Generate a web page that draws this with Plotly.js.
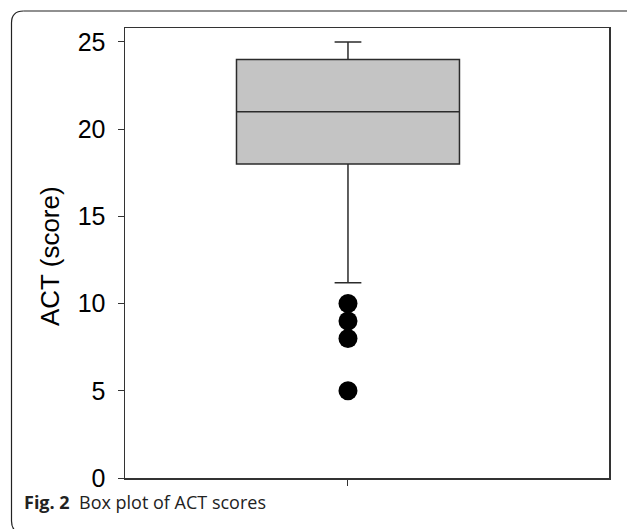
<!DOCTYPE html>
<html>
<head>
<meta charset="utf-8">
<script src="https://cdn.plot.ly/plotly-3.0.1.min.js"></script>
<style>html,body{margin:0;padding:0;background:#fff;}#chart{width:627px;height:529px;}</style>
</head>
<body>
<div id="chart"></div>
<script>
// Box statistics (ACT score)
const category = [0];
const q1 = [18];
const median = [21];
const q3 = [24];
const lowerWhisker = [11.2];
const upperWhisker = [25];
const outlierValues = [10, 9, 8, 5];
const outlierCategory = [0, 0, 0, 0];
const yTicks = [0, 5, 10, 15, 20, 25];
const yTitle = "ACT (score)";
const caption = "<b>Fig. 2</b>  Box plot of ACT scores";

const W = 627, H = 529;
const L = 125, R = 18, T = 28, B = 51;
const pw = W - L - R, ph = H - T - B;
function px2x(p){ return (p - L) / pw; }
function px2y(p){ return (H - B - p) / ph; }

const traces = [
  {
    type: 'box',
    x: category,
    q1: q1, median: median, q3: q3,
    lowerfence: lowerWhisker, upperfence: upperWhisker,
    width: 0.4607,
    whiskerwidth: 0.12,
    boxpoints: false,
    fillcolor: '#c4c4c4',
    line: {color: '#2b2b2b', width: 1.5},
    hoverinfo: 'skip'
  },
  {
    type: 'scatter', mode: 'markers',
    x: outlierCategory, y: outlierValues,
    marker: {color: '#000', size: 19, line: {width: 0}},
    hoverinfo: 'skip'
  }
];

// rounded outer border (left, top; right & bottom run off the page)
const r = 12;
const bx = 11.5, by = 11, bx1 = 640, by1 = 533;
const topCorner = `M ${px2x(bx)} ${px2y(by + r)} Q ${px2x(bx)} ${px2y(by)} ${px2x(bx + r)} ${px2y(by)}`;
const botCorner = `M ${px2x(bx)} ${px2y(by1 - r)} Q ${px2x(bx)} ${px2y(by1)} ${px2x(bx + r)} ${px2y(by1)}`;
const bline = {color: '#222', width: 1.2};

const layout = {
  width: W, height: H,
  margin: {l: L, r: R, t: T, b: B, pad: 0},
  paper_bgcolor: '#fff', plot_bgcolor: '#fff',
  showlegend: false,
  font: {family: 'Liberation Sans, Arial, sans-serif', color: '#000'},
  xaxis: {
    range: [-0.4607, 0.5393],
    showgrid: false, zeroline: false,
    showline: true, mirror: true, linecolor: '#333', linewidth: 1.5,
    ticks: 'outside', ticklen: 6, tickwidth: 1, tickcolor: '#333',
    tickvals: [0], ticktext: [''],
    fixedrange: true
  },
  yaxis: {
    range: [0, 25.8],
    showgrid: false, zeroline: false,
    showline: true, mirror: true, linecolor: '#333', linewidth: 1.5,
    ticks: 'outside', ticklen: 6, tickwidth: 1, tickcolor: '#333',
    tickvals: yTicks, ticktext: yTicks.map(String),
    tickfont: {size: 25, family: 'Liberation Sans, Arial, sans-serif', color: '#000'},
    ticklabelstandoff: 7,
    fixedrange: true
  },
  shapes: [
    {type: 'line', xref: 'paper', yref: 'paper',
     x0: px2x(bx), x1: px2x(bx), y0: px2y(by + r), y1: px2y(by1 - r), line: bline},
    {type: 'line', xref: 'paper', yref: 'paper',
     x0: px2x(bx + r), x1: px2x(bx1), y0: px2y(by), y1: px2y(by), line: bline},
    {type: 'line', xref: 'paper', yref: 'paper',
     x0: px2x(bx + r), x1: px2x(bx1), y0: px2y(by1), y1: px2y(by1), line: bline},
    {type: 'path', xref: 'paper', yref: 'paper', path: topCorner, line: bline},
    {type: 'path', xref: 'paper', yref: 'paper', path: botCorner, line: bline}
  ],
  annotations: [
    {text: yTitle, xref: 'paper', yref: 'paper', x: px2x(50), y: px2y(256),
     textangle: -90, showarrow: false, xanchor: 'center', yanchor: 'middle',
     font: {size: 26, family: 'Liberation Sans, Arial, sans-serif', color: '#000'}},
    {text: caption, xref: 'paper', yref: 'paper', x: px2x(22), y: px2y(502),
     showarrow: false, xanchor: 'left', yanchor: 'middle',
     font: {size: 18, family: 'Open Sans, sans-serif', color: '#222'}}
  ]
};

Plotly.newPlot('chart', traces, layout, {displayModeBar: false, staticPlot: true});
</script>
</body>
</html>
